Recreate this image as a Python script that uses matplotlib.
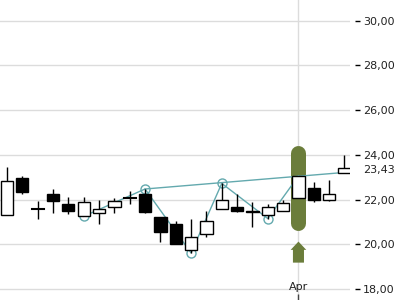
import matplotlib
matplotlib.use("Agg")
import matplotlib.pyplot as plt
from matplotlib.patches import FancyArrow

# ---- data ----
opens  = [21.30, 22.97, 21.59, 22.27, 21.82, 21.29, 21.42, 21.66, 22.06, 22.26, 21.22, 20.92,
          19.74, 20.46, 21.59, 21.66, 21.51, 21.30, 21.50, 22.09, 22.51, 22.00, 23.18]
highs  = [23.48, 23.07, 21.94, 22.48, 22.12, 22.11, 21.99, 22.06, 22.40, 22.48, 21.25, 21.05,
          21.14, 21.50, 22.73, 22.24, 21.89, 21.80, 21.99, 23.06, 22.78, 22.88, 24.00]
lows   = [21.30, 22.24, 21.15, 21.42, 21.36, 21.26, 20.90, 21.42, 21.80, 21.39, 20.10, 20.01,
          19.60, 20.32, 21.59, 21.47, 20.77, 21.14, 21.50, 22.09, 21.91, 21.96, 23.18]
closes = [22.82, 22.35, 21.59, 21.96, 21.50, 21.89, 21.57, 21.93, 22.06, 21.47, 20.57, 20.01,
          20.32, 21.05, 21.97, 21.51, 21.44, 21.69, 21.84, 23.06, 21.99, 22.26, 23.43]

zig_x = [5, 9, 12, 14, 17, 19]
zig_y = [21.26, 22.48, 19.62, 22.73, 21.16, 23.06]
zig_marked = [5, 9, 12, 14, 17]

trend_x = [9, 22]
trend_y = [22.48, 23.22]

highlight_idx = 19
month_label = "Apr"
last_price = 23.43
yticks = [18, 20, 22, 24, 26, 28, 30]

green = "#6b7d3b"
teal = "#63a9ae"
grid_c = "#dcdcdc"
txt_c = "#222222"

fig = plt.figure(figsize=(4, 3), dpi=100)
ax = fig.add_axes([0, 0, 350 / 400, 1])
ax.set_xlim(-0.456, 22.36)
ax.set_ylim(17.52, 30.925)

for s in ax.spines.values():
    s.set_visible(False)
ax.spines['right'].set_position(('outward', 3.6))

ax.yaxis.tick_right()
ax.set_yticks(yticks)
ax.set_yticklabels([f"{v:.2f}".replace('.', ',') for v in yticks])
ax.tick_params(axis='y', direction='out', length=3.6, width=1, color='black',
               pad=2, labelsize=8, labelcolor=txt_c)
ax.set_xticks([highlight_idx])
ax.set_xticklabels([])
ax.tick_params(axis='x', direction='in', length=4, width=1, color='#444444')
ax.grid(True, color=grid_c, lw=1)
ax.set_axisbelow(True)

# highlight bar (rounded)
ax.plot([highlight_idx, highlight_idx], [24.11, 20.98], color=green, lw=10.8,
        solid_capstyle='round', zorder=2)
ax.add_patch(FancyArrow(highlight_idx, 19.19, 0, 0.94, width=0.72, head_width=1.02,
                        head_length=0.37, length_includes_head=True, color=green,
                        lw=0, zorder=2))

# zigzag + trend
ax.plot(zig_x, zig_y, color=teal, lw=1, zorder=3)
ax.plot([zig_x[i] for i in range(len(zig_x)) if zig_x[i] in zig_marked],
        [zig_y[i] for i in range(len(zig_x)) if zig_x[i] in zig_marked],
        ls='none', marker='o', ms=6.5, mfc='none', mec=teal, mew=1, zorder=3)
ax.plot(trend_x, trend_y, color=teal, lw=1, zorder=3)

# candles
xs = list(range(len(opens)))
ax.vlines(xs, lows, highs, color='black', lw=1, zorder=4)
for x, o, c in zip(xs, opens, closes):
    fc = 'white' if c >= o else 'black'
    h = abs(c - o)
    if h < 0.02:
        ax.plot([x - 0.4, x + 0.4], [o, o], color='black', lw=1.5, zorder=5)
    else:
        ax.bar(x, h, bottom=min(o, c), width=0.8, facecolor=fc, edgecolor='black',
               lw=1, zorder=5)

ax.text(highlight_idx, 18.12, month_label, ha='center', va='center', fontsize=8, color=txt_c)
ax.annotate(f"{last_price:.2f}".replace('.', ','), xy=(1, last_price),
            xycoords=ax.get_yaxis_transform(), xytext=(9.4, -1.5),
            textcoords='offset points', ha='left', va='center', fontsize=8,
            color=txt_c, annotation_clip=False)

fig.savefig("out.png", dpi=100)
